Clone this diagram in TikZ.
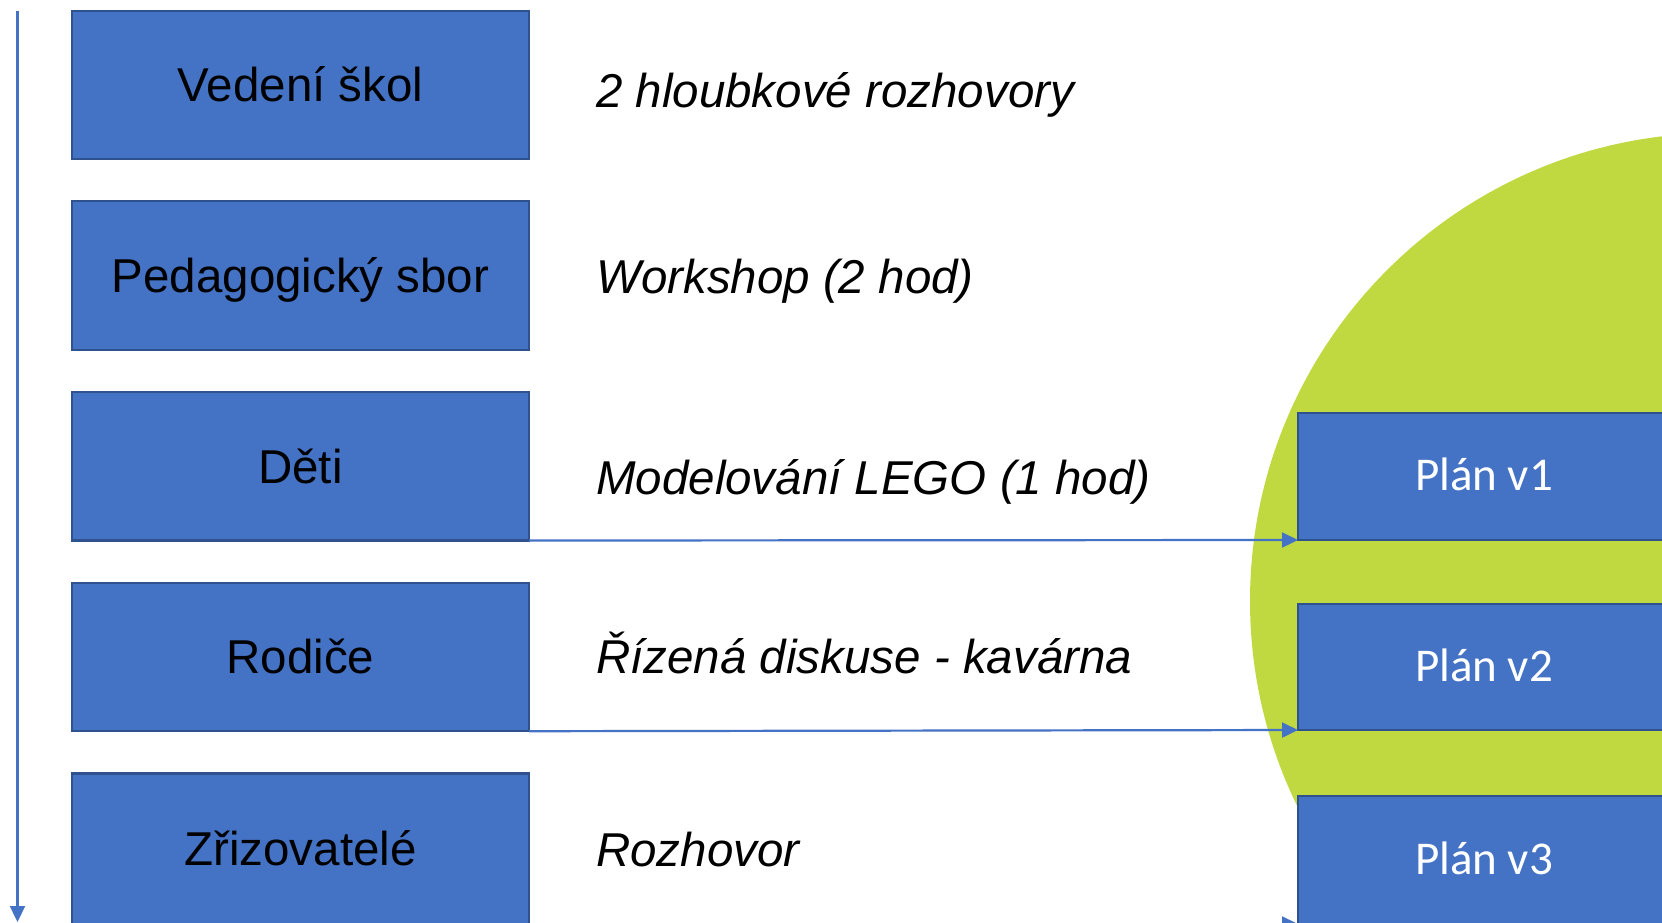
\documentclass[tikz,border=0pt]{standalone}
\usepackage{fontspec}
\setmainfont{Liberation Sans}
\newfontfamily\calibrifont{Carlito}
\usetikzlibrary{arrows.meta}
\definecolor{boxblue}{HTML}{4472C4}
\definecolor{boxline}{HTML}{2F528F}
\definecolor{limegreen}{RGB}{192,217,65}
\begin{document}
\begin{tikzpicture}[x=1pt,y=-1pt,
  leftbox/.style={draw=boxline, line width=2.2pt, fill=boxblue, anchor=north west,
    outer sep=0pt, inner sep=0pt, minimum width=457pt, minimum height=148.5pt,
    text height=34pt, text depth=0pt, font=\fontsize{47.5}{57}\selectfont, text=black},
  planbox/.style={draw=boxline, line width=2.2pt, fill=boxblue, anchor=north west,
    outer sep=0pt, inner sep=0pt, minimum width=372pt, minimum height=127pt,
    text height=28pt, text depth=0pt, font=\calibrifont\fontsize{47}{56}\selectfont, text=white},
  act/.style={anchor=base west, inner sep=0pt, font=\itshape\fontsize{47.5}{57}\selectfont},
  arr/.style={draw=boxblue, line width=2.2pt, -{Triangle[length=16pt,width=15pt]}}
]
\useasboundingbox (0,0) rectangle (1662,922);
\clip (0,0) rectangle (1662,922);
\fill[white] (0,0) rectangle (1662,922);

% green circle
\fill[limegreen] (1718,601) circle[radius=468pt];

% timeline arrow
\coordinate (vtop) at (17.5,10.6);
\coordinate (vbot) at (17.5,922);
\draw[arr] (vtop) -- (vbot);

% left boxes
\node[leftbox] (b1) at (72,10.6) {Vedení škol};
\node[leftbox] (b2) at (72,201.3) {Pedagogický sbor};
\node[leftbox] (b3) at (72,392) {Děti};
\node[leftbox] (b4) at (72,582.7) {Rodiče};
\node[leftbox, minimum height=150.6pt] (b5) at (72,773.4) {Zřizovatelé};

% activities
\node[act] (a1) at (596,107) {2 hloubkové rozhovory};
\node[act] (a2) at (596,293) {Workshop (2 hod)};
\node[act] (a3) at (596,494) {Modelování LEGO (1 hod)};
\node[act] (a4) at (596,673) {Řízená diskuse - kavárna};
\node[act] (a5) at (596,866) {Rozhovor};

% plan boxes
\node[planbox] (p1) at (1298,413) {Plán v1};
\node[planbox, minimum height=126pt] (p2) at (1298,604) {Plán v2};
\node[planbox, minimum height=128pt] (p3) at (1298,796) {Plán v3};

% connectors
\draw[arr] (b3.south east) -- (p1.south west);
\draw[arr] (b4.south east) -- (p2.south west);
\draw[arr] (b5.south east) -- (p3.south west);
\end{tikzpicture}
\end{document}
